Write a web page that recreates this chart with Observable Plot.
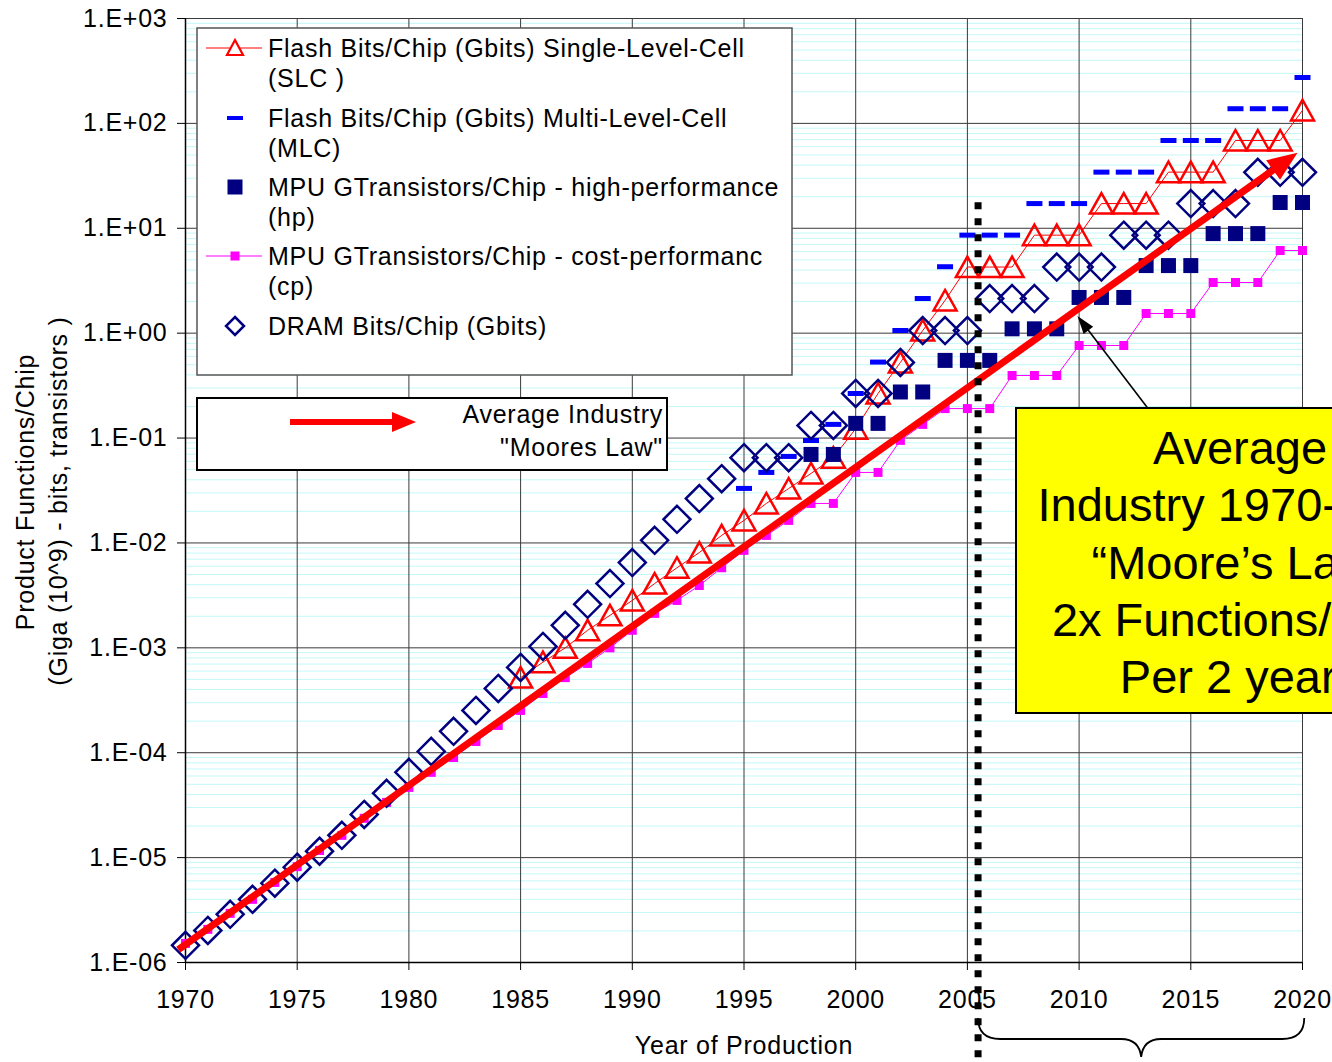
<!DOCTYPE html>
<html><head><meta charset="utf-8">
<script src="https://cdn.jsdelivr.net/npm/d3@7"></script>
<script src="https://cdn.jsdelivr.net/npm/@observablehq/plot@0.6"></script>
<style>
html,body{margin:0;padding:0;background:#fff;overflow:hidden;width:1332px;height:1062px;}
#chart{position:absolute;left:0;top:0;}
</style></head><body><div id="chart"></div>
<script>
// ---------- data ----------
const dramYears = d3.range(1970, 2021);
const dramValues = [1.46e-6, 2.02e-6, 2.88e-6, 4.0e-6, 5.7e-6, 8.1e-6, 1.15e-5, 1.63e-5, 2.58e-5, 4.1e-5,
  6.5e-5, 1.03e-4, 1.6e-4, 2.53e-4, 4.1e-4, 6.5e-4, 1.03e-3, 1.64e-3, 2.6e-3, 4.1e-3,
  6.5e-3, 1.06e-2, 1.68e-2, 2.65e-2, 4.1e-2, 6.5e-2, 6.5e-2, 6.5e-2, 0.132, 0.132,
  0.266, 0.266, 0.526, 1.06, 1.06, 1.06, 2.14, 2.14, 2.14, 4.27,
  4.27, 4.27, 8.6, 8.6, 8.6, 17.2, 17.2, 17.2, 34.2, 34.2, 34.2];

const slcYears = d3.range(1985, 2021);
const slcValues = [5.2e-4, 7.3e-4, 1.0e-3, 1.47e-3, 2.04e-3, 2.83e-3, 4.1e-3, 5.8e-3, 8.1e-3, 1.18e-2,
  1.64e-2, 2.38e-2, 3.3e-2, 4.6e-2, 6.5e-2, 0.123, 0.266, 0.526, 1.06, 2.05,
  4.27, 4.27, 4.27, 8.6, 8.6, 8.6, 17.2, 17.2, 17.2, 34.3,
  34.3, 34.3, 68.7, 68.7, 68.7, 133];

const mlcYears = d3.range(1995, 2021);
const mlcValues = [0.0331, 0.047, 0.0668, 0.0948, 0.135, 0.266, 0.53, 1.06, 2.14, 4.3,
  8.6, 8.6, 8.6, 17.2, 17.2, 17.2, 34.3, 34.3, 34.3, 68.7,
  68.7, 68.7, 138, 138, 138, 274];

const hpYears = d3.range(1998, 2021);
const hpValues = [0.0698, 0.0698, 0.138, 0.138, 0.275, 0.275, 0.55, 0.55, 0.55, 1.1,
  1.1, 1.1, 2.19, 2.19, 2.19, 4.41, 4.41, 4.41, 8.9, 8.9,
  8.9, 17.6, 17.6];

const cpYears = d3.range(1970, 2021);
const cpValues = [1.52e-6, 2.07e-6, 2.94e-6, 4.0e-6, 5.8e-6, 8.2e-6, 1.17e-5, 1.63e-5, 2.37e-5, 3.36e-5,
  4.67e-5, 6.5e-5, 9.0e-5, 1.28e-4, 1.82e-4, 2.53e-4, 3.67e-4, 5.2e-4, 7.1e-4, 1.0e-3,
  1.47e-3, 2.13e-3, 2.83e-3, 3.93e-3, 5.8e-3, 8.5e-3, 1.18e-2, 0.0164, 0.0238, 0.0238,
  0.047, 0.047, 0.095, 0.135, 0.191, 0.191, 0.191, 0.395, 0.395, 0.395,
  0.763, 0.763, 0.763, 1.54, 1.54, 1.54, 3.04, 3.04, 3.04, 6.14, 6.14];

const mooreYears = [1969.7, 2019.8];
const mooreValues = [1.31e-6, 52];

const arrowYears = [2013.1, 2009.95];
const arrowValues = [0.19, 1.44];

const dottedYear = 2005.5;
const dottedTop = 17.5;

const xTicks = [1970, 1975, 1980, 1985, 1990, 1995, 2000, 2005, 2010, 2015, 2020];
const yTicks = [1e-6, 1e-5, 1e-4, 1e-3, 1e-2, 1e-1, 1e0, 1e1, 1e2, 1e3];
const yTickLabels = ["1.E-06", "1.E-05", "1.E-04", "1.E-03", "1.E-02", "1.E-01", "1.E+00", "1.E+01", "1.E+02", "1.E+03"];
const minorTicks = [];
for (let e = -6; e < 3; e++) for (let m = 2; m <= 9; m++) minorTicks.push(m * Math.pow(10, e));

const legendLabels = [
  ["Flash Bits/Chip (Gbits) Single-Level-Cell", "(SLC )"],
  ["Flash Bits/Chip (Gbits) Multi-Level-Cell", "(MLC)"],
  ["MPU GTransistors/Chip - high-performance", "(hp)"],
  ["MPU GTransistors/Chip - cost-performanc", "(cp)"],
  ["DRAM Bits/Chip (Gbits)"]
];
const mooreLegend = ["Average Industry", "\"Moores Law\""];
const boxLines = ["Average", "Industry 1970-2020", "\u201cMoore\u2019s Law\u201d", "2x Functions/Chip", "Per 2 years"];
const yTitle = ["Product Functions/Chip", "(Giga (10^9) - bits, transistors )"];
const xTitle = "Year of Production";

const zip = (xs, vs) => xs.map((x, i) => ({x, v: vs[i]}));
const dram = zip(dramYears, dramValues);
const slc = zip(slcYears, slcValues);
const mlc = zip(mlcYears, mlcValues);
const hp = zip(hpYears, hpValues);
const cp = zip(cpYears, cpValues);

// ---------- symbols ----------
const triSym = {draw(c) { c.moveTo(0, -10.5); c.lineTo(11.5, 10); c.lineTo(-11.5, 10); c.closePath(); }};
const dashSym = {draw(c) { c.rect(-8, -2.5, 16, 5); }};
const hpSym = {draw(c) { c.rect(-7.5, -7.5, 15, 15); }};
const cpSym = {draw(c) { c.rect(-4.5, -4.5, 9, 9); }};
const diaSym = {draw(c) { c.moveTo(0, -13.5); c.lineTo(13.5, 0); c.lineTo(0, 13.5); c.lineTo(-13.5, 0); c.closePath(); }};

const RED = "#ff0000", NAVY = "#000080", BLUE = "#0000ff", MAG = "#ff00ff";
const FONT = "'Liberation Sans', Arial, sans-serif";
const LS = "0.75px";

const plot = Plot.plot({
  width: 1332, height: 1062,
  marginLeft: 185, marginRight: 30, marginTop: 18, marginBottom: 100,
  style: {fontFamily: FONT, color: "#000", background: "transparent", overflow: "visible", letterSpacing: LS},
  x: {domain: [1970, 2020]},
  y: {type: "log", domain: [1e-6, 1e3]},
  marks: [
    Plot.ruleY(minorTicks, {stroke: "#c4f8f8", strokeWidth: 1}),
    Plot.ruleY(yTicks, {stroke: "#3a3a3a", strokeWidth: 1}),
    Plot.ruleX(xTicks, {stroke: "#3a3a3a", strokeWidth: 1}),
    Plot.axisY({ticks: yTicks, tickFormat: d => yTickLabels[yTicks.indexOf(d)], tickSize: 8, tickPadding: 10, fontSize: 25, label: null}),
    Plot.axisX({ticks: xTicks, tickFormat: d => String(d), tickSize: 8, tickPadding: 20, fontSize: 25, label: null}),
    Plot.ruleX([1970], {stroke: "#000", strokeWidth: 1.5}),
    Plot.ruleY([1e-6], {stroke: "#000", strokeWidth: 1.5}),
    Plot.line(slc, {x: "x", y: "v", stroke: RED, strokeWidth: 1}),
    Plot.dot(slc, {x: "x", y: "v", symbol: triSym, stroke: RED, strokeWidth: 2.5, fill: "none"}),
    Plot.dot(mlc, {x: "x", y: "v", symbol: dashSym, fill: BLUE, stroke: "none"}),
    Plot.dot(hp, {x: "x", y: "v", symbol: hpSym, fill: NAVY, stroke: "none"}),
    Plot.line(cp, {x: "x", y: "v", stroke: MAG, strokeWidth: 1}),
    Plot.dot(cp, {x: "x", y: "v", symbol: cpSym, fill: MAG, stroke: "none"}),
    Plot.dot(dram, {x: "x", y: "v", symbol: diaSym, stroke: NAVY, strokeWidth: 2.5, fill: "none"}),
    Plot.text([xTitle], {text: d => d, frameAnchor: "bottom", dy: 83, fontSize: 25, lineAnchor: "middle"})
  ]
});
document.getElementById("chart").appendChild(plot);

const sx = plot.scale("x"), sy = plot.scale("y");
const svg = d3.select(plot);
const g = svg.append("g").attr("font-family", FONT);

function arrow(sel, p0, p1, width, headLen, headHalf, color) {
  const dx = p1[0] - p0[0], dy = p1[1] - p0[1];
  const L = Math.hypot(dx, dy), ux = dx / L, uy = dy / L;
  const bx = p1[0] - ux * headLen, by = p1[1] - uy * headLen;
  sel.append("line").attr("x1", p0[0]).attr("y1", p0[1]).attr("x2", bx + ux * 2).attr("y2", by + uy * 2)
    .attr("stroke", color).attr("stroke-width", width);
  sel.append("path").attr("d", `M${p1[0]},${p1[1]}L${bx - uy * headHalf},${by + ux * headHalf}L${bx + uy * headHalf},${by - ux * headHalf}Z`)
    .attr("fill", color);
}

// Moore's law arrow
arrow(g, [sx.apply(mooreYears[0]), sy.apply(mooreValues[0])], [sx.apply(mooreYears[1]), sy.apply(mooreValues[1])], 7, 30, 12, RED);

// dotted line at 2005
g.append("line").attr("x1", sx.apply(dottedYear)).attr("x2", sx.apply(dottedYear))
  .attr("y1", sy.apply(dottedTop)).attr("y2", 1070)
  .attr("stroke", "#000").attr("stroke-width", 7).attr("stroke-dasharray", "7,9");

// annotation arrow
arrow(g, [sx.apply(arrowYears[0]), sy.apply(arrowValues[0])], [sx.apply(arrowYears[1]), sy.apply(arrowValues[1])], 1.6, 18, 6, "#000");

// legend box
const lg = g.append("g");
lg.append("rect").attr("x", 197).attr("y", 28).attr("width", 595).attr("height", 347)
  .attr("fill", "#fff").attr("stroke", "#555").attr("stroke-width", 1.5);
const entryY = [48, 118, 187, 256, 326];
legendLabels.forEach((lines, i) => {
  lines.forEach((t, j) => {
    lg.append("text").attr("x", 268).attr("y", entryY[i] + j * 30).attr("dy", "0.36em")
      .attr("text-anchor", "start").attr("font-size", 25).attr("fill", "#000").text(t);
  });
});
// legend symbols
lg.append("line").attr("x1", 206).attr("x2", 262).attr("y1", 48).attr("y2", 48).attr("stroke", RED).attr("stroke-width", 1);
lg.append("path").attr("d", "M235,40L243,55L227,55Z").attr("fill", "#fff").attr("stroke", RED).attr("stroke-width", 2.2);
lg.append("rect").attr("x", 227).attr("y", 116).attr("width", 16).attr("height", 4).attr("fill", BLUE);
lg.append("rect").attr("x", 227.5).attr("y", 179.5).attr("width", 15).attr("height", 15).attr("fill", NAVY);
lg.append("line").attr("x1", 206).attr("x2", 262).attr("y1", 256).attr("y2", 256).attr("stroke", MAG).attr("stroke-width", 1);
lg.append("rect").attr("x", 230.5).attr("y", 251.5).attr("width", 9).attr("height", 9).attr("fill", MAG);
lg.append("path").attr("d", "M235,317L244,326L235,335L226,326Z").attr("fill", "none").attr("stroke", NAVY).attr("stroke-width", 2.5);

// Moore legend box
const mg = g.append("g");
mg.append("rect").attr("x", 197).attr("y", 398).attr("width", 470).attr("height", 72)
  .attr("fill", "#fff").attr("stroke", "#000").attr("stroke-width", 2);
arrow(mg, [290, 422], [416, 422], 6, 24, 10, RED);
mooreLegend.forEach((t, j) => {
  mg.append("text").attr("x", 663).attr("y", 414 + j * 33).attr("dy", "0.36em").attr("text-anchor", "end")
    .attr("font-size", 25).attr("fill", "#000").text(t);
});

// yellow box
const yb = g.append("g").attr("letter-spacing", "0px").style("letter-spacing", "0px");
yb.append("rect").attr("x", 1016).attr("y", 408).attr("width", 448).attr("height", 305)
  .attr("fill", "#ffff00").attr("stroke", "#000").attr("stroke-width", 2);
boxLines.forEach((t, j) => {
  yb.append("text").attr("x", 1240).attr("y", 447 + j * 57.3).attr("dy", "0.36em").attr("text-anchor", "middle")
    .attr("font-size", 47).attr("fill", "#000").text(t);
});

// y title
yTitle.forEach((t, j) => {
  g.append("text").attr("transform", `translate(${25 + j * 33},${492 + j * 9}) rotate(-90)`)
    .attr("text-anchor", "middle").attr("dy", "0.36em").attr("font-size", 25).attr("fill", "#000").text(t);
});

// brace under 2005-2020
const bx0 = sx.apply(dottedYear), bx1 = sx.apply(2020.1), bxm = (bx0 + bx1) / 2;
g.append("path").attr("d",
  `M${bx0},1018 Q${bx0},1039 ${bx0 + 22},1039 L${bxm - 20},1039 Q${bxm - 2},1039 ${bxm},1057 Q${bxm + 2},1039 ${bxm + 20},1039 L${bx1 - 22},1039 Q${bx1},1039 ${bx1},1018`)
  .attr("fill", "none").attr("stroke", "#000").attr("stroke-width", 1.8);
</script></body></html>
